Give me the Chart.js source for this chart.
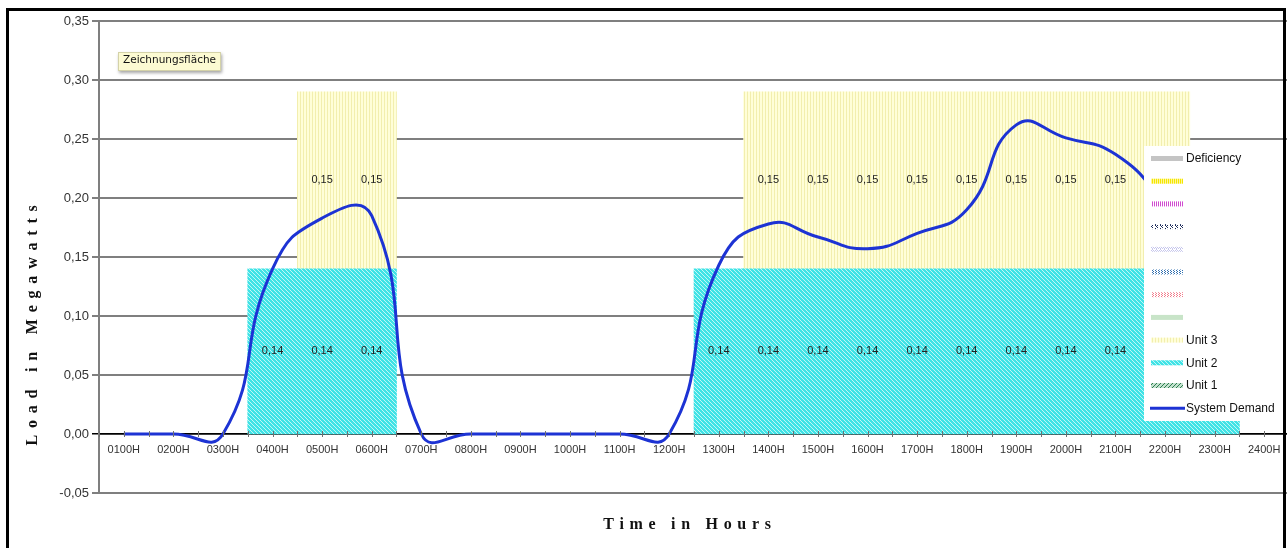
<!DOCTYPE html>
<html>
<head>
<meta charset="utf-8">
<script src="https://cdn.jsdelivr.net/npm/chart.js@4/dist/chart.umd.min.js"></script>
<style>
  html, body { margin: 0; padding: 0; background: #fff; overflow: hidden; }
  #wrap { position: relative; width: 1287px; height: 548px; overflow: hidden; }
  #c { position: absolute; left: 0; top: 0; }
  #frame { position: absolute; left: 6px; top: 8px; width: 1274px; height: 600px;
           border: 3px solid #000; pointer-events: none; }
  #note { position: absolute; left: 118px; top: 52px; height: 17px; line-height: 17px;
          padding: 0 4px; font: 10.5px "DejaVu Sans", sans-serif; color: #111;
          background: #fcfad2; border: 1px solid #d4d2a8;
          box-shadow: 1px 2px 3px rgba(0,0,0,0.35); }
</style>
</head>
<body>
<div id="wrap">
  <canvas id="c" width="1292" height="548"></canvas>
  <div id="note">Zeichnungsfläche</div>
  <div id="frame"></div>
</div>
<script>
// Hours of the day (category axis)
const hours = ['0100H','0200H','0300H','0400H','0500H','0600H','0700H','0800H',
               '0900H','1000H','1100H','1200H','1300H','1400H','1500H','1600H',
               '1700H','1800H','1900H','2000H','2100H','2200H','2300H','2400H'];

// Load in megawatts per hour
const systemDemand = [0, 0, 0, 0.14, 0.183, 0.185, 0, 0, 0, 0, 0, 0,
                      0.143, 0.178, 0.167, 0.157, 0.17, 0.19, 0.262, 0.251, 0.237, 0.195, 0.14, null];
const unit1 = [null, null, null, null, null, null, null, null, null, null, null, null,
               null, null, null, null, null, null, null, null, null, null, null, null];
const unit2 = [null, null, null, 0.14, 0.14, 0.14, null, null, null, null, null, null,
               0.14, 0.14, 0.14, 0.14, 0.14, 0.14, 0.14, 0.14, 0.14, 0.14, 0.14, null];
const unit3 = [null, null, null, null, 0.15, 0.15, null, null, null, null, null, null,
               null, 0.15, 0.15, 0.15, 0.15, 0.15, 0.15, 0.15, 0.15, 0.15, null, null];
const deficiency = [];
const blankSeries = [];

// Y axis range / step
const yMin = -0.05, yMax = 0.35, yStep = 0.05;

const fmt = v => (Math.abs(v) < 1e-9 ? 0 : v).toFixed(2).replace('.', ',');

// --- fill patterns -------------------------------------------------------
function pattern(w, h, bg, fg, pts) {
  const c = document.createElement('canvas');
  c.width = w; c.height = h;
  const g = c.getContext('2d');
  if (bg) { g.fillStyle = bg; g.fillRect(0, 0, w, h); }
  g.fillStyle = fg;
  pts.forEach(([x, y]) => g.fillRect(x, y, 1, 1));
  return g.createPattern(c, 'repeat');
}
const fills = {
  unit2: pattern(4, 4, '#3fe3e6', '#c2f6f6', [[0,0],[1,1],[2,2],[3,3]]),
  unit3: pattern(3, 1, '#fffed8', '#f2eeae', [[0,0]]),
  unit1: pattern(4, 4, '#c4e2cf', '#2f7d4f', [[3,0],[2,1],[1,2],[0,3]]),
  yellow: pattern(2, 1, '#f4e600', '#fff799', [[1,0]]),
  magenta: pattern(2, 1, '#ffffff', '#d04cd0', [[0,0]]),
  navy: pattern(5, 4, '#ffffff', '#1b2a5a', [[0,0],[0,1],[1,2],[2,1],[2,3]]),
  lavender: pattern(4, 3, '#ffffff', '#c6c6ec', [[0,0],[1,1],[2,2],[3,1],[0,2]]),
  blue: pattern(3, 2, '#ffffff', '#2f6fb0', [[0,0],[1,1]]),
  pink: pattern(3, 2, '#ffffff', '#f27a8a', [[0,0],[1,1]]),
  green: '#c8e4c8',
  deficiency: '#c4c4c4'
};

const barBase = { type: 'bar', stack: 'units', order: 1, borderWidth: 0,
                  barPercentage: 1, categoryPercentage: 1 };

const datasets = [
  { ...barBase, label: 'Unit 1', data: unit1, backgroundColor: fills.unit1, swatch: fills.unit1 },
  { ...barBase, label: 'Unit 2', data: unit2, backgroundColor: fills.unit2, swatch: fills.unit2, showValues: true },
  { ...barBase, label: 'Unit 3', data: unit3, backgroundColor: fills.unit3, swatch: fills.unit3, showValues: true },
  { ...barBase, label: '', data: blankSeries, backgroundColor: fills.green, swatch: fills.green },
  { ...barBase, label: '', data: blankSeries, backgroundColor: fills.pink, swatch: fills.pink },
  { ...barBase, label: '', data: blankSeries, backgroundColor: fills.blue, swatch: fills.blue },
  { ...barBase, label: '', data: blankSeries, backgroundColor: fills.lavender, swatch: fills.lavender },
  { ...barBase, label: '', data: blankSeries, backgroundColor: fills.navy, swatch: fills.navy },
  { ...barBase, label: '', data: blankSeries, backgroundColor: fills.magenta, swatch: fills.magenta },
  { ...barBase, label: '', data: blankSeries, backgroundColor: fills.yellow, swatch: fills.yellow },
  { ...barBase, label: 'Deficiency', data: deficiency, backgroundColor: fills.deficiency, swatch: fills.deficiency },
  { type: 'line', label: 'System Demand', data: systemDemand, stack: 'demand', order: 0,
    borderColor: '#1d33d4', borderWidth: 3, tension: 0.5, pointRadius: 0, fill: false,
    isLine: true }
];

const sans = '"Liberation Sans", Arial, sans-serif';
const serif = '"Liberation Serif", "Times New Roman", serif';

// Value labels, axis ticks, axis titles and the legend
const decor = {
  id: 'decor',
  afterDatasetDraw(chart, args) {
    const ds = chart.data.datasets[args.index];
    if (!ds.showValues) return;
    const ctx = chart.ctx;
    ctx.save();
    ctx.font = '11px ' + sans;
    ctx.fillStyle = '#222';
    ctx.textAlign = 'center';
    ctx.textBaseline = 'middle';
    args.meta.data.forEach((bar, i) => {
      const v = ds.data[i];
      if (v == null) return;
      const p = bar.getProps(['x', 'y', 'base'], true);
      ctx.fillText(fmt(v), p.x, (p.y + p.base) / 2);
    });
    ctx.restore();
  },
  afterDatasetsDraw(chart) {
    const ctx = chart.ctx, xs = chart.scales.x, ys = chart.scales.y;
    const y0 = ys.getPixelForValue(0);
    const half = (xs.getPixelForValue(1) - xs.getPixelForValue(0)) / 2;
    ctx.save();
    ctx.strokeStyle = '#707070';
    ctx.lineWidth = 1;
    ctx.beginPath();
    hours.forEach((h, i) => {
      const cx = xs.getPixelForValue(i);
      [cx - half, cx].forEach(px => {
        ctx.moveTo(Math.round(px) + 0.5, y0 - 3);
        ctx.lineTo(Math.round(px) + 0.5, y0 + 3);
      });
    });
    ctx.stroke();
    ctx.restore();
  },
  afterDraw(chart) {
    const ctx = chart.ctx, area = chart.chartArea;
    // axis titles
    ctx.save();
    ctx.font = 'bold 16px ' + serif;
    ctx.fillStyle = '#111';
    ctx.textAlign = 'center';
    ctx.textBaseline = 'middle';
    ctx.letterSpacing = '5.7px';
    ctx.fillText('Time in Hours', 690, 525);
    ctx.translate(33, 322);
    ctx.rotate(-Math.PI / 2);
    ctx.letterSpacing = '6.8px';
    ctx.fillText('Load in Megawatts', 0, 0);
    ctx.restore();

    // legend
    const items = chart.data.datasets.filter(d => !d.isLine).reverse()
      .concat(chart.data.datasets.filter(d => d.isLine));
    const lx = 1144, ly = 146, lw = area.right - lx, lh = 275;
    ctx.save();
    ctx.fillStyle = '#ffffff';
    ctx.fillRect(lx, ly, lw, lh);
    ctx.font = '12px ' + sans;
    ctx.textBaseline = 'middle';
    ctx.textAlign = 'left';
    items.forEach((d, i) => {
      const cy = 158.5 + i * 22.7;
      if (d.isLine) {
        ctx.strokeStyle = d.borderColor;
        ctx.lineWidth = 3;
        ctx.beginPath();
        ctx.moveTo(1150, cy); ctx.lineTo(1185, cy);
        ctx.stroke();
      } else {
        ctx.fillStyle = d.swatch;
        ctx.fillRect(1151, cy - 2.5, 32, 5);
      }
      if (d.label) {
        ctx.fillStyle = '#111';
        ctx.fillText(d.label, 1186, cy + 0.5);
      }
    });
    ctx.restore();
  }
};

new Chart(document.getElementById('c'), {
  data: { labels: hours, datasets },
  options: {
    responsive: false,
    animation: false,
    devicePixelRatio: 1,
    layout: { padding: { left: 0, top: 21, right: 3, bottom: 55 } },
    plugins: { legend: { display: false }, tooltip: { enabled: false } },
    scales: {
      x: {
        type: 'category',
        stacked: true,
        offset: true,
        position: { y: 0 },
        grid: { display: false, drawTicks: false },
        border: { display: true, color: '#000', width: 1.5 },
        ticks: { padding: 9, color: '#333', font: { size: 11, family: sans },
                 maxRotation: 0, autoSkip: false }
      },
      y: {
        stacked: true,
        min: yMin, max: yMax,
        afterFit(s) { s.width = 99; },
        ticks: { stepSize: yStep, padding: 3, color: '#333',
                 font: { size: 13, family: sans }, callback: v => fmt(v) },
        grid: {
          color: c => (c.tick && Math.abs(c.tick.value) < 1e-9) ? '#000' : '#7f7f7f',
          lineWidth: c => (c.tick && Math.abs(c.tick.value) < 1e-9) ? 1.5 : 2,
          tickLength: 7
        },
        border: { color: '#7f7f7f', width: 2 }
      }
    }
  },
  plugins: [decor]
});
</script>
</body>
</html>
